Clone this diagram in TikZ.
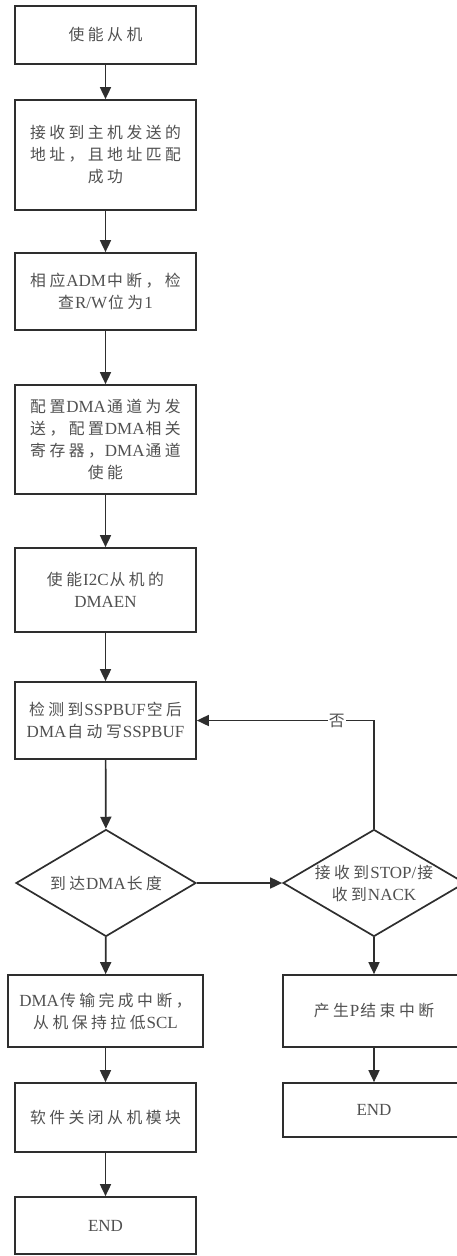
\documentclass[tikz,border=0pt]{standalone}
\usepackage{fontspec}
\setmainfont{Liberation Serif}
\newfontfamily\cjkf[Scale=0.93]{Noto Sans CJK SC}
\newXeTeXintercharclass\mycjkclass
\newcount\mycnt
\mycnt="4E00
\loop
  \XeTeXcharclass\mycnt=\mycjkclass
  \advance\mycnt by 1
\ifnum\mycnt<"A000 \repeat
\XeTeXcharclass"FF0C=\mycjkclass
\XeTeXinterchartokenstate=1
\XeTeXinterchartoks 0 \mycjkclass = {\kern1pt\cjkf}
\XeTeXinterchartoks 4095 \mycjkclass = {\cjkf}
\XeTeXinterchartoks \mycjkclass 0 = {\kern1pt\rmfamily}
\XeTeXinterchartoks \mycjkclass \mycjkclass = {\kern3.5pt}
\usetikzlibrary{arrows.meta,shapes.geometric}
\definecolor{lc}{HTML}{2E2E2E}
\definecolor{tc}{HTML}{505050}
\begin{document}
\begin{tikzpicture}[x=1pt,y=-1pt,
  box/.style={draw=lc,line width=1.7pt,inner sep=0pt,minimum width=181pt,align=center,text=tc,font=\fontsize{17}{22}\selectfont},
  dia/.style={diamond,draw=lc,line width=1.7pt,inner sep=0pt,minimum width=#1,minimum height=107pt},
  lbl/.style={align=center,text=tc,font=\fontsize{17}{22}\selectfont},
  arr/.style={draw=lc,line width=1.7pt,-{Triangle[length=12pt,width=11pt]}}]
\useasboundingbox (0,0) rectangle (456,1256);
\node[box,minimum height=58pt] (b1) at (105.5,35) {使能从机};
\node[box,minimum height=110pt] (b2) at (105.5,155) {接收到主机发送的\\地址，且地址匹配\\成功};
\node[box,minimum height=77pt] (b3) at (105.5,291.5) {相应ADM中断，检\\查R/W位为1};
\node[box,minimum height=109pt] (b4) at (105.5,439.5) {配置DMA通道为发\\送，配置DMA相关\\寄存器，DMA通道\\使能};
\node[box,minimum height=84pt] (b5) at (105.5,590) {使能I2C从机的\\DMAEN};
\node[box,minimum height=77pt] (b6) at (105.5,720.5) {检测到SSPBUF空后\\DMA自动写SSPBUF};
\node[dia=180pt] (d1) at (106,883) {};
\node[lbl] (t1) at (d1.center) {到达DMA长度};
\node[dia=182pt] (d2) at (374,883) {};
\node[lbl] (t2) at (d2.center) {接收到STOP/接\\收到NACK};
\node[box,minimum width=195pt,minimum height=72pt] (b7) at (105.5,1011) {DMA传输完成中断，\\从机保持拉低SCL};
\node[box,minimum height=69pt] (b8) at (105.5,1117.5) {软件关闭从机模块};
\node[box,minimum height=57pt] (b9) at (105.5,1225.5) {END};
\node[box,minimum width=182pt,minimum height=72pt] (b10) at (374,1011) {产生P结束中断};
\node[box,minimum width=182pt,minimum height=54pt] (b11) at (374,1110) {END};
\draw[arr] (b1) -- (b2);
\draw[arr] (b2) -- (b3);
\draw[arr] (b3) -- (b4);
\draw[arr] (b4) -- (b5);
\draw[arr] (b5) -- (b6);
\draw[arr] (b6) -- (d1);
\draw[arr] (d1.east) -- (d2.west);
\draw[arr] (d1) -- (b7);
\draw[arr] (b7) -- (b8);
\draw[arr] (b8) -- (b9);
\draw[arr] (d2) -- (b10);
\draw[arr] (b10) -- (b11);
\draw[arr] (d2.north) |- node[pos=0.605,fill=white,inner sep=1pt,text=tc,font=\fontsize{17}{22}\selectfont] (no) {否} (b6.east);
\end{tikzpicture}
\end{document}
